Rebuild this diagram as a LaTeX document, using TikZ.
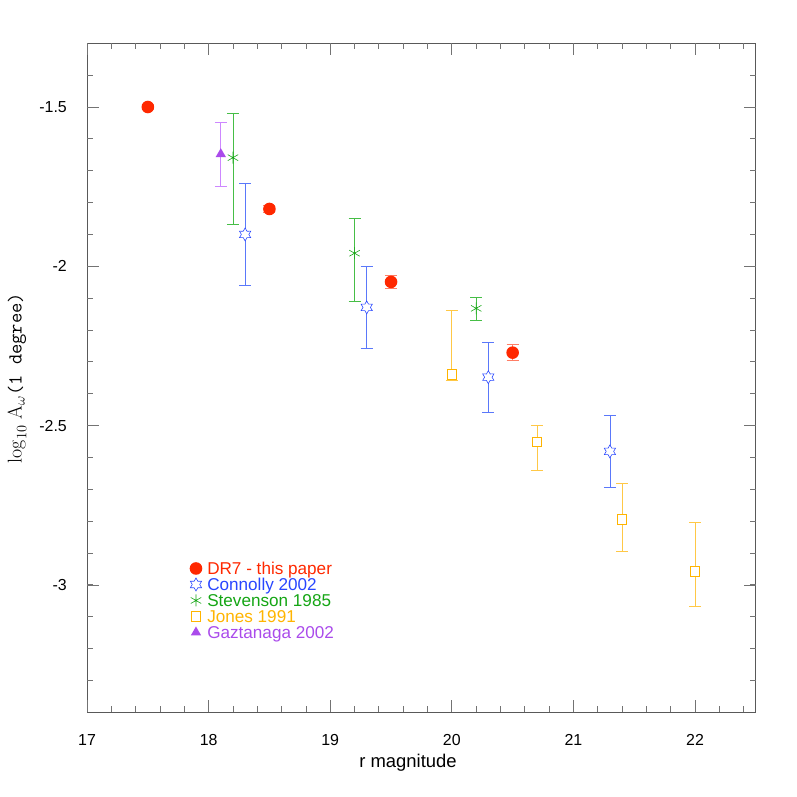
\documentclass[tikz,border=0pt]{standalone}
\usepackage{fontspec}
\newfontfamily\plotfont{Liberation Sans}
\usetikzlibrary{shapes.geometric,positioning}

\definecolor{drred}{RGB}{255,40,0}
\definecolor{conblue}{RGB}{40,70,255}
\definecolor{conbar}{RGB}{90,120,250}
\definecolor{stegreen}{RGB}{20,165,20}
\definecolor{stebar}{RGB}{70,190,70}
\definecolor{jonyellow}{RGB}{255,180,0}
\definecolor{jonbar}{RGB}{255,200,70}
\definecolor{gazpurple}{RGB}{170,75,235}
\definecolor{gazbar}{RGB}{205,135,255}

\begin{document}
\begin{tikzpicture}[x=121.6bp, y=318.6bp, font=\plotfont\fontsize{16}{19}\selectfont,
  frame/.style={draw=black!65, line width=0.8pt},
  tick/.style={draw=black!55, line width=0.8pt},
  ticklab/.style={inner sep=0},
  bar/.style={line width=0.8pt},
  dotmark/.style={circle, fill=drred, inner sep=0, minimum size=12.6bp},
  starmark/.style={star, star points=6, star point ratio=1.75, draw=conblue, line width=0.6pt, inner sep=0, minimum size=13bp},
  boxmark/.style={rectangle, draw=jonyellow, line width=0.7pt, inner sep=0, minimum size=9.5bp},
  trimark/.style={regular polygon, regular polygon sides=3, fill=gazpurple, inner sep=0, minimum size=12bp},
  astmark/.pic={\draw[stegreen, line width=0.6pt] (90:6bp) -- (270:6bp) (30:6bp) -- (210:6bp) (150:6bp) -- (330:6bp);},
  legtext/.style={anchor=base west, inner sep=0, yshift=-6bp, font=\plotfont\fontsize{17.2}{20}\selectfont}]

	\useasboundingbox (16.2845,-3.6657) rectangle (22.8388,-1.1642);

	% The frame and ticks
	\draw[frame] (17,-3.4) rectangle (22.5,-1.3);
	\foreach \k in {1,...,27}{
		\pgfmathsetmacro\m{17+0.2*\k}
		\draw[tick] (\m,-3.4) -- ++(0bp,6bp) (\m,-1.3) -- ++(0bp,-6bp);
	}
	\foreach \k in {1,...,20}{
		\pgfmathsetmacro\v{-3.4+0.1*\k}
		\draw[tick] (17,\v) -- ++(6bp,0bp) (22.5,\v) -- ++(-6bp,0bp);
	}
	\foreach \m in {17,...,22}{
		\draw[tick] (\m,-3.4) -- ++(0bp,12bp) (\m,-1.3) -- ++(0bp,-12bp);
		\node[ticklab] (xl\m) at (\m,-3.487) {\m};
	}
	\foreach \v/\t [count=\i] in {-1.5/-1.5,-2/-2,-2.5/-2.5,-3/-3}{
		\draw[tick] (17,\v) -- ++(12bp,0bp) (22.5,\v) -- ++(-12bp,0bp);
		\node[ticklab, anchor=east] (yl\i) at ([xshift=-20bp]17,\v) {\t};
	}

	% Axis labels
	\node (xlab) at (19.64,-3.559) {\fontsize{18.5}{21}\selectfont r magnitude};
	\node[rotate=90] (ylab) at (16.424,-2.351) {\rmfamily\fontsize{20}{24}\selectfont $\log_{10}$ A$_\omega$\texttt{(1 degree)}};

	% Error bars and points
	\foreach \m/\v/\lo/\hi [count=\i] in {18.2/-1.659/-1.867/-1.520, 19.2/-1.959/-2.109/-1.849, 20.2/-2.132/-2.169/-2.098}{
		\draw[bar, stebar] (\m,\lo) -- (\m,\hi) (\m,\lo) ++(-6bp,0bp) -- ++(12bp,0bp) (\m,\hi) ++(-6bp,0bp) -- ++(12bp,0bp);
		\pic (st\i) at (\m,\v) {astmark};
	}
	\foreach \m/\v/\lo/\hi [count=\i] in {20.0/-2.339/-2.358/-2.138, 20.7/-2.551/-2.642/-2.500, 21.4/-2.795/-2.896/-2.682, 22.0/-2.958/-3.069/-2.805}{
		\draw[bar, jonbar] (\m,\lo) -- (\m,\hi) (\m,\lo) ++(-6bp,0bp) -- ++(12bp,0bp) (\m,\hi) ++(-6bp,0bp) -- ++(12bp,0bp);
		\node[boxmark, fill=white] (jo\i) at (\m,\v) {};
	}
	\foreach \m/\v/\lo/\hi [count=\i] in {18.3/-1.900/-2.060/-1.740, 19.3/-2.129/-2.259/-2.000, 20.3/-2.348/-2.457/-2.239, 21.3/-2.581/-2.693/-2.469}{
		\draw[bar, conbar] (\m,\lo) -- (\m,\hi) (\m,\lo) ++(-6bp,0bp) -- ++(12bp,0bp) (\m,\hi) ++(-6bp,0bp) -- ++(12bp,0bp);
		\node[starmark, fill=white] (co\i) at (\m,\v) {};
	}
	\foreach \m/\v/\lo/\hi [count=\i] in {18.1/-1.648/-1.749/-1.549}{
		\draw[bar, gazbar] (\m,\lo) -- (\m,\hi) (\m,\lo) ++(-6bp,0bp) -- ++(12bp,0bp) (\m,\hi) ++(-6bp,0bp) -- ++(12bp,0bp);
		\node[trimark] (ga\i) at (\m,\v) {};
	}
	\foreach \m/\v/\lo/\hi [count=\i] in {17.5/-1.500/-1.508/-1.492, 18.5/-1.820/-1.832/-1.808, 19.5/-2.049/-2.069/-2.029, 20.5/-2.271/-2.296/-2.246}{
		\draw[bar, drred!60] (\m,\lo) -- (\m,\hi) (\m,\lo) ++(-6bp,0bp) -- ++(12bp,0bp) (\m,\hi) ++(-6bp,0bp) -- ++(12bp,0bp);
		\node[dotmark] (dr\i) at (\m,\v) {};
	}

	% Legend
	\node[dotmark] (kdr) at (17.896,-2.9485) {};
	\node[starmark] (kco) at (17.896,-2.9987) {};
	\pic (kst) at (17.896,-3.0489) {astmark};
	\node[boxmark] (kjo) at (17.896,-3.0991) {};
	\node[trimark] (kga) at (17.896,-3.1493) {};
	\node[legtext, text=drred] (tdr) at (17.987,-2.9485) {DR7 - this paper};
	\node[legtext, text=conblue] (tco) at (17.987,-2.9987) {Connolly 2002};
	\node[legtext, text=stegreen] (tst) at (17.987,-3.0489) {Stevenson 1985};
	\node[legtext, text=jonyellow] (tjo) at (17.987,-3.0991) {Jones 1991};
	\node[legtext, text=gazpurple] (tga) at (17.987,-3.1493) {Gaztanaga 2002};

\end{tikzpicture}
\end{document}
